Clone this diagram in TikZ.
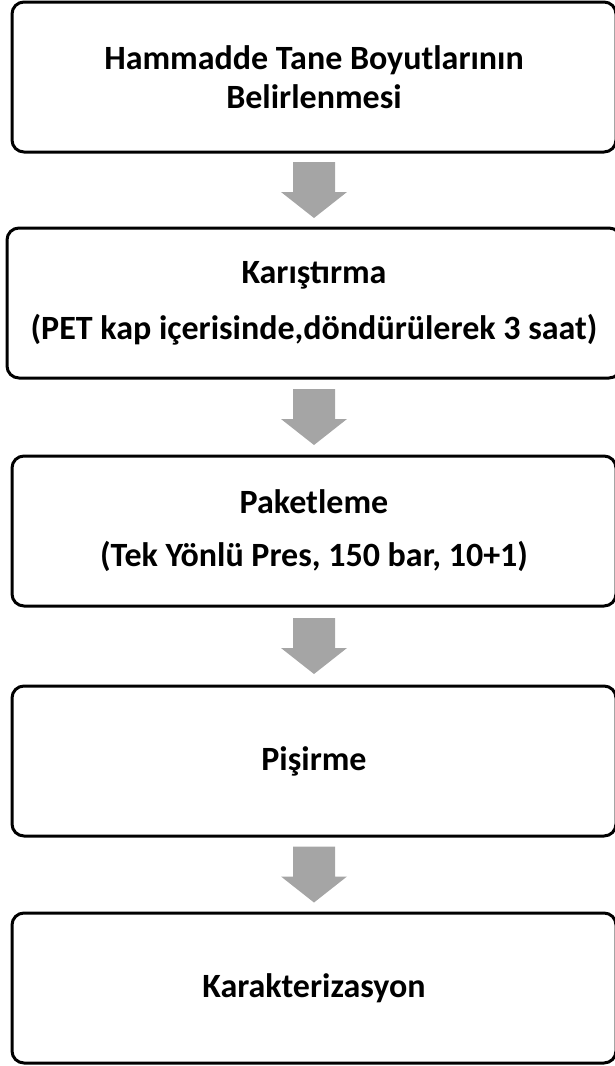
\documentclass[tikz,border=0pt]{standalone}
\usepackage{fontspec}
\setmainfont{Carlito}
\usetikzlibrary{calc}
\definecolor{arrowgray}{HTML}{A5A5A5}
\tikzset{
  stepbox/.style={draw, line width=3pt, rounded corners=12pt, minimum width=604pt,
    minimum height=150pt, align=center, font=\fontsize{34}{39}\selectfont\bfseries},
}

\begin{document}
\begin{tikzpicture}[x=1pt,y=1pt]
  \useasboundingbox (0,0) rectangle (614,-1066);
  % process steps
  \node[stepbox] (boyut) at (314,-77) {Hammadde Tane Boyutlarının\\Belirlenmesi};
  \node[stepbox, minimum width=614pt] (karis) at (314,-303) {Karıştırma\\[17pt](PET kap içerisinde,döndürülerek 3 saat)};
  \node[stepbox] (paket) at (314,-531) {Paketleme\\[14pt](Tek Yönlü Pres, 150 bar, 10+1)};
  \node[stepbox] (pisir) at (314,-761) {Pişirme};
  \node[stepbox] (karak) at (314,-988) {Karakterizasyon};
  % block arrows
  \foreach \a/\b in {boyut/karis, karis/paket, paket/pisir, pisir/karak}
    \fill[arrowgray] ($(\a.south)!0.5!(\b.north)$) ++(-21,28) -- ++(42,0) -- ++(0,-30)
      -- ++(12,0) -- ++(-33,-26) -- ++(-33,26) -- ++(12,0) -- cycle;
\end{tikzpicture}
\end{document}
